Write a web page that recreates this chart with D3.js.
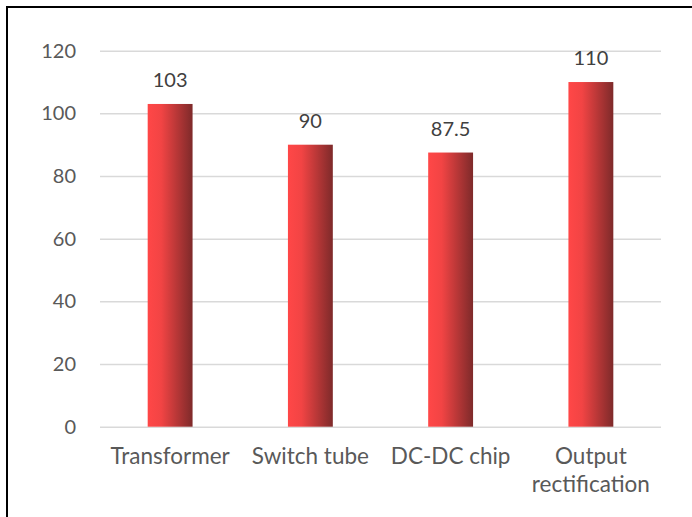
<!DOCTYPE html>
<html><head><meta charset="utf-8">
<script src="https://cdn.jsdelivr.net/npm/d3@7"></script>
<style>html,body{margin:0;background:#fff;overflow:hidden}svg{display:block}</style>
</head><body>
<svg id="c" width="692" height="517"></svg>
<script>
const categories = ["Transformer", "Switch tube", "DC-DC chip", "Output\nrectification"];
const values = [103, 90, 87.5, 110];
const valueLabels = ["103", "90", "87.5", "110"];
const yTicks = [0, 20, 40, 60, 80, 100, 120];

const svg = d3.select("#c");
const font = "Lato, Carlito, Calibri, sans-serif";
const m = {left: 100, right: 661, top: 50.7, bottom: 426.7};

const defs = svg.append("defs");
const g = defs.append("linearGradient").attr("id","barGrad").attr("x1","0").attr("x2","1").attr("y1","0").attr("y2","0");
g.append("stop").attr("offset","0%").attr("stop-color","#ff4747");
g.append("stop").attr("offset","30%").attr("stop-color","#f24444");
g.append("stop").attr("offset","100%").attr("stop-color","#7e2a2a");

// frame (top and left edges only)
svg.append("path").attr("d","M7,517 V7 H692").attr("fill","none").attr("stroke","#000").attr("stroke-width",2);

const x = d3.scaleBand().domain(categories).range([m.left, m.right]).paddingInner(0.68).paddingOuter(0.34);
const y = d3.scaleLinear().domain([0, 120]).range([m.bottom, m.top]);

const yAxis = d3.axisLeft(y).tickValues(yTicks).tickSize(-(m.right - m.left)).tickPadding(24);
const ya = svg.append("g").attr("transform",`translate(${m.left},0)`).call(yAxis);
ya.select(".domain").remove();
ya.selectAll(".tick line").attr("stroke","#d9d9d9").attr("stroke-width",1.5);
ya.selectAll(".tick text").attr("fill","#595959").attr("font-family",font).attr("font-size",20);

svg.append("g").selectAll("rect").data(values).join("rect")
  .attr("x",(d,i)=>x(categories[i])).attr("width",x.bandwidth())
  .attr("y",d=>y(d)).attr("height",d=>y(0)-y(d))
  .attr("fill","url(#barGrad)");

svg.append("g").selectAll("text").data(values).join("text")
  .attr("x",(d,i)=>x(categories[i])+x.bandwidth()/2).attr("y",d=>y(d)-17)
  .attr("text-anchor","middle").attr("fill","#404040").attr("font-family",font).attr("font-size",20)
  .text((d,i)=>valueLabels[i]);

const xAxis = d3.axisBottom(x).tickSize(0).tickFormat("");
const xa = svg.append("g").attr("transform",`translate(0,${m.bottom})`).call(xAxis);
xa.select(".domain").remove();
xa.selectAll(".tick").each(function(d){
  const lines = d.split("\n");
  const t = d3.select(this).append("text").attr("text-anchor","middle").attr("fill","#595959")
    .attr("font-family",font).attr("font-size",22.5);
  lines.forEach((l,i)=>t.append("tspan").attr("x",0).attr("y",37 + i*28).text(l));
});
</script>
</body></html>
